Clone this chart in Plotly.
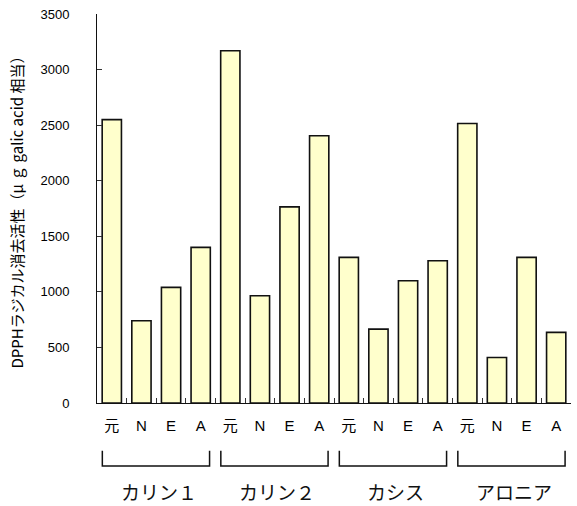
import plotly.graph_objects as go

# Sample groups and extraction types
groups = ["カリン１", "カリン２", "カシス", "アロニア"]
extracts = ["元", "N", "E", "A"]

# DPPH radical scavenging activity per group (元, N, E, A)
karin1 = [2550, 740, 1040, 1400]
karin2 = [3170, 965, 1765, 2405]
cassis = [1310, 665, 1100, 1280]
aronia = [2515, 410, 1310, 635]

y_ticks = [0, 500, 1000, 1500, 2000, 2500, 3000, 3500]

series = [karin1, karin2, cassis, aronia]
x_ids, x_text, y_vals = [], [], []
for gi, vals in enumerate(series):
    for ei, v in enumerate(vals):
        x_ids.append(f"{gi}-{ei}")
        x_text.append(extracts[ei])
        y_vals.append(v)

fig = go.Figure()
fig.add_trace(go.Bar(
    x=x_ids, y=y_vals,
    marker=dict(color="#FFFFCC", line=dict(color="#111111", width=1.6)),
    hoverinfo="y",
))

jp_font = "Noto Sans CJK JP"

# Bracket under each group with its name beneath
n = len(extracts)
for gi, name in enumerate(groups):
    x0 = gi * n - 0.32
    x1 = gi * n + n - 1 + 0.3
    fig.add_shape(
        type="path",
        xref="x", yref="paper",
        path=f"M {x0},-0.123 L {x0},-0.162 L {x1},-0.162 L {x1},-0.123",
        line=dict(color="#111111", width=1.5),
    )
    fig.add_annotation(
        x=(x0 + x1) / 2 + 0.1, y=-0.228, xref="x", yref="paper",
        text=name, showarrow=False,
        font=dict(family=jp_font, size=19, color="#111111"),
        xanchor="center", yanchor="middle",
    )

fig.update_layout(
    width=577, height=506,
    margin=dict(l=97, r=6, t=14, b=103),
    paper_bgcolor="white", plot_bgcolor="white",
    bargap=0.35,
    showlegend=False,
    font=dict(family="Arial, Liberation Sans", size=13, color="#000000"),
    xaxis=dict(
        type="category",
        tickmode="array", tickvals=x_ids, ticktext=x_text,
        tickson="boundaries",
        ticks="inside", ticklen=5, tickcolor="#333333",
        showline=True, linecolor="#111111", linewidth=1,
        showgrid=False,
        tickfont=dict(family="Arial, " + jp_font, size=15, color="#000000"),
        ticklabelstandoff=9,
    ),
    yaxis=dict(
        range=[0, 3500],
        tickmode="array", tickvals=y_ticks,
        ticks="inside", ticklen=5, tickcolor="#333333",
        showline=True, linecolor="#111111", linewidth=1,
        showgrid=False, zeroline=False,
        tickfont=dict(family="Arial, Liberation Sans", size=13, color="#000000"),
        ticklabelstandoff=24,
        title=dict(
            text="DPPHラジカル消去活性（μ ｇ galic acid 相当）",
            font=dict(family=jp_font, size=15, color="#000000"),
            standoff=13,
        ),
    ),
)

fig.write_html("out.html")
